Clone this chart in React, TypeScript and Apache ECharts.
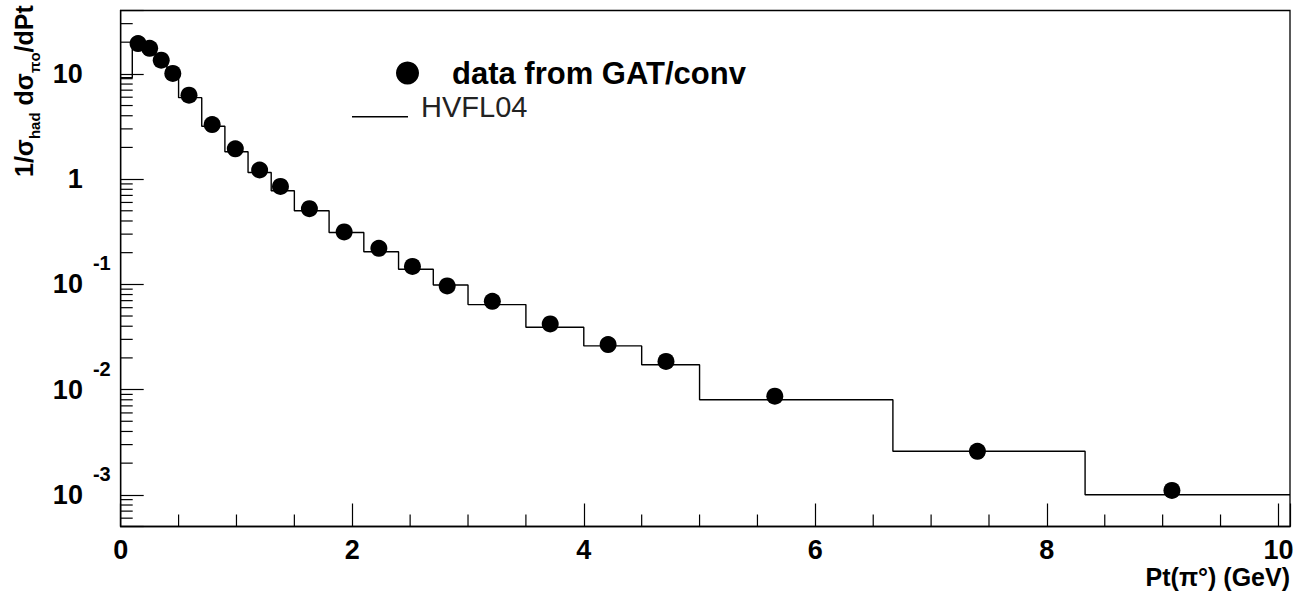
import React, { useEffect, useRef } from 'react';
import * as echarts from 'echarts';

// Axis ranges
const X_MIN = 0;
const X_MAX = 10.1;
const Y_MIN = 5e-4;
const Y_MAX = 40;

// Data points (data from GAT/conv)
const dataPt = [0.15, 0.25, 0.35, 0.45, 0.59, 0.79, 0.99, 1.2, 1.38, 1.63, 1.93, 2.23, 2.52, 2.82, 3.21, 3.71, 4.21, 4.71, 5.65, 7.4, 9.08];
const dataSigma = [19.4, 17.5, 13.5, 10.1, 6.27, 3.3, 1.94, 1.22, 0.851, 0.523, 0.315, 0.22, 0.148, 0.0966, 0.069, 0.0421, 0.0268, 0.0185, 0.00865, 0.00259, 0.0011];

// HVFL04 histogram
const histEdges = [0, 0.1, 0.2, 0.3, 0.4, 0.5, 0.7, 0.9, 1.1, 1.3, 1.5, 1.8, 2.1, 2.4, 2.7, 3.0, 3.5, 4.0, 4.5, 5.0, 6.67, 8.33, 10.1];
const histValues = [9.2, 19.6, 17.0, 13.3, 10.1, 5.94, 3.18, 1.82, 1.155, 0.774, 0.5, 0.311, 0.204, 0.139, 0.0987, 0.0642, 0.0391, 0.026, 0.0172, 0.008, 0.00259, 0.001];

// Ticks and labels
const xMajorTicks = [0, 2, 4, 6, 8, 10];
const xTickLabels = ['0', '2', '4', '6', '8', '10'];
const xMinorTicks = [0.5, 1, 1.5, 2.5, 3, 3.5, 4.5, 5, 5.5, 6.5, 7, 7.5, 8.5, 9, 9.5];
const yMajorTicks = [0.001, 0.01, 0.1, 1, 10];
const yTickBase = ['10', '10', '10', '1', '10'];
const yTickSup = ['-3', '-2', '-1', '', ''];
const yMinorTicks = [
  0.0006, 0.0007, 0.0008, 0.0009,
  0.002, 0.003, 0.004, 0.005, 0.006, 0.007, 0.008, 0.009,
  0.02, 0.03, 0.04, 0.05, 0.06, 0.07, 0.08, 0.09,
  0.2, 0.3, 0.4, 0.5, 0.6, 0.7, 0.8, 0.9,
  2, 3, 4, 5, 6, 7, 8, 9,
  20, 30,
];

const FONT = 'Liberation Sans';

export default function App() {
  const ref = useRef<HTMLDivElement>(null);

  useEffect(() => {
    if (!ref.current) return;
    const chart = echarts.init(ref.current, undefined, { renderer: 'svg' });

    const histData: number[][] = [];
    for (let i = 0; i < histValues.length; i++) histData.push([histEdges[i], histValues[i]]);
    histData.push([histEdges[histEdges.length - 1], histValues[histValues.length - 1]]);

    const pointData = dataPt.map((x, i) => [x, dataSigma[i]]);

    const option: any = {
      animation: false,
      backgroundColor: '#fff',
      textStyle: { fontFamily: FONT, color: '#000' },
      grid: {
        left: 120.7,
        right: 19,
        top: 10.5,
        bottom: 75.5,
        show: true,
        borderColor: '#000',
        borderWidth: 1.3,
        containLabel: false,
        outerBoundsMode: 'none',
      },
      legend: [
        {
          data: ['data from GAT/conv'],
          left: 396,
          top: 57.5,
          padding: 0,
          itemWidth: 23,
          itemHeight: 23,
          selectedMode: false,
          textStyle: { fontFamily: FONT, fontSize: 31, fontWeight: 'bold', color: '#000', lineHeight: 31, padding: [0, 0, 0, 28] },
        },
        {
          data: [{ name: 'HVFL04', icon: 'path://M0,0 M0,19.6 L56,19.6 L56,21 L0,21 Z' }],
          left: 352,
          top: 92.5,
          padding: 0,
          itemWidth: 56,
          itemHeight: 21,
          selectedMode: false,
          itemStyle: { color: '#000' },
          textStyle: { fontFamily: FONT, fontSize: 29, fontWeight: 'normal', color: '#222', lineHeight: 21, padding: [0, 0, 0, 8] },
        },
      ],
      xAxis: {
        type: 'value',
        min: X_MIN,
        max: X_MAX,
        interval: 2,
        name: 'Pt(π°) (GeV)',
        nameLocation: 'end',
        nameGap: 0,
        nameMoveOverlap: false,
        nameTextStyle: {
          fontFamily: FONT,
          fontSize: 25,
          fontWeight: 'bold',
          color: '#000',
          align: 'right',
          verticalAlign: 'top',
          padding: [38, 0, 0, 0],
        },
        axisLine: { show: true, lineStyle: { color: '#000', width: 1.3 } },
        axisTick: { show: true, inside: true, length: 23, lineStyle: { color: '#000', width: 1.2 } },
        splitLine: { show: false },
        axisLabel: {
          show: true,
          margin: 10,
          fontFamily: FONT,
          fontSize: 27,
          fontWeight: 'bold',
          color: '#000',
          formatter: (v: number) => {
            const i = xMajorTicks.findIndex((t) => Math.abs(t - v) < 1e-9);
            return i >= 0 ? xTickLabels[i] : '';
          },
        },
      },
      yAxis: {
        type: 'log',
        logBase: 10,
        min: Y_MIN,
        max: Y_MAX,
        axisLine: { show: true, lineStyle: { color: '#000', width: 1.3 } },
        axisTick: { show: true, inside: true, length: 23, lineStyle: { color: '#000', width: 1.2 } },
        splitLine: { show: false },
        axisLabel: {
          show: true,
          margin: 10,
          fontFamily: FONT,
          color: '#000',
          formatter: (v: number) => {
            const i = yMajorTicks.findIndex((t) => Math.abs(Math.log10(t) - Math.log10(v)) < 1e-6);
            if (i < 0) return '';
            if (yTickSup[i]) return '{b|' + yTickBase[i] + '}{s|' + yTickSup[i] + '}';
            return '{b|' + yTickBase[i] + '}{p| }';
          },
          rich: {
            b: { fontFamily: FONT, fontSize: 27, fontWeight: 'bold', color: '#000', lineHeight: 62, verticalAlign: 'middle' },
            s: { fontFamily: FONT, fontSize: 20, fontWeight: 'bold', color: '#000', lineHeight: 20, verticalAlign: 'top', padding: [0, 0, 0, 10] },
            p: { fontFamily: FONT, fontSize: 20, width: 28, lineHeight: 20 },
          },
        },
      },
      graphic: [
        {
          type: 'text',
          x: 24,
          y: 177,
          rotation: Math.PI / 2,
          silent: true,
          style: {
            text: '{m|1/σ}{s|had}{m| dσ}{s|πo}{m|/dPt}',
            align: 'left',
            verticalAlign: 'middle',
            fill: '#000',
            rich: {
              m: { fontFamily: FONT, fontSize: 25, fontWeight: 'bold', fill: '#000', lineHeight: 36, verticalAlign: 'middle' },
              s: { fontFamily: FONT, fontSize: 15, fontWeight: 'bold', fill: '#000', lineHeight: 15, verticalAlign: 'bottom' },
            },
          },
        },
      ],
      series: [
        {
          type: 'custom',
          name: 'yMinorTicks',
          coordinateSystem: 'cartesian2d',
          silent: true,
          clip: false,
          data: yMinorTicks.map((v) => [X_MIN, v]),
          encode: { x: 0, y: 1 },
          renderItem: (params: any, api: any) => {
            const p = api.coord([api.value(0), api.value(1)]);
            return {
              type: 'line',
              shape: { x1: p[0], y1: p[1], x2: p[0] + 12, y2: p[1] },
              style: { stroke: '#000', lineWidth: 1.2 },
            };
          },
        },
        {
          type: 'custom',
          name: 'xMinorTicks',
          coordinateSystem: 'cartesian2d',
          silent: true,
          clip: false,
          data: xMinorTicks.map((v) => [v, Y_MIN]),
          encode: { x: 0, y: 1 },
          renderItem: (params: any, api: any) => {
            const p = api.coord([api.value(0), api.value(1)]);
            return {
              type: 'line',
              shape: { x1: p[0], y1: p[1], x2: p[0], y2: p[1] - 12 },
              style: { stroke: '#000', lineWidth: 1.2 },
            };
          },
        },
        {
          type: 'line',
          name: 'HVFL04',
          step: 'end',
          symbol: 'none',
          data: histData,
          lineStyle: { color: '#000', width: 1.4 },
          itemStyle: { color: '#000' },
          silent: true,
        },
        {
          type: 'scatter',
          name: 'data from GAT/conv',
          symbol: 'circle',
          symbolSize: 17,
          data: pointData,
          itemStyle: { color: '#000', opacity: 1 },
          silent: true,
        },
      ],
    };

    chart.setOption(option);
    return () => chart.dispose();
  }, []);

  return <div ref={ref} style={{ position: 'absolute', left: 0, top: 0, width: 1309, height: 602 }} />;
}
